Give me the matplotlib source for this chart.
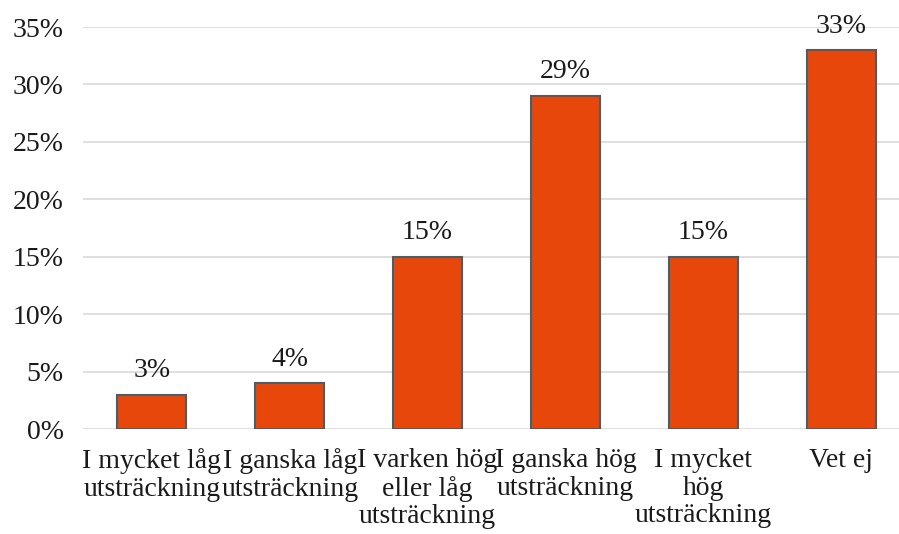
import matplotlib
matplotlib.use("Agg")
from matplotlib import pyplot as plt

categories = ["I mycket låg\nutsträckning", "I ganska låg\nutsträckning",
              "I varken hög\neller låg\nutsträckning", "I ganska hög\nutsträckning",
              "I mycket\nhög\nutsträckning", "Vet ej"]
values = [3, 4, 15, 29, 15, 33]
yticks = [0, 5, 10, 15, 20, 25, 30, 35]

plt.rcParams['font.family'] = ['Liberation Serif', 'DejaVu Serif']

fig = plt.figure(figsize=(8.99, 5.34), dpi=100)
ax = fig.add_axes([0.0923, 0.1966, 0.92, 0.7528])

x = list(range(len(values)))
ax.bar(x, values, width=0.5, color="#E8470C", edgecolor="#595959", linewidth=1.5, zorder=3)
for i, v in enumerate(values):
    ax.text(i, v + 1.0, f"{v}%", ha="center", va="bottom", fontsize=20, color="#1a1a1a")

ax.set_xlim(-0.5, len(values) - 0.5)
ax.set_ylim(0, 35)
ax.set_yticks(yticks)
ax.set_yticklabels([f"{t}%" for t in yticks], fontsize=20, color="#1a1a1a")
ax.set_xticks(x)
ax.set_xticklabels(categories, fontsize=20, color="#1a1a1a", linespacing=1.13)
ax.tick_params(length=0, pad=14)
ax.tick_params(axis="y", pad=14)
ax.yaxis.grid(True, color="#D9D9D9", linewidth=1.2, zorder=0)
for s in ax.spines.values():
    s.set_visible(False)

fig.savefig("out.png", dpi=100)
